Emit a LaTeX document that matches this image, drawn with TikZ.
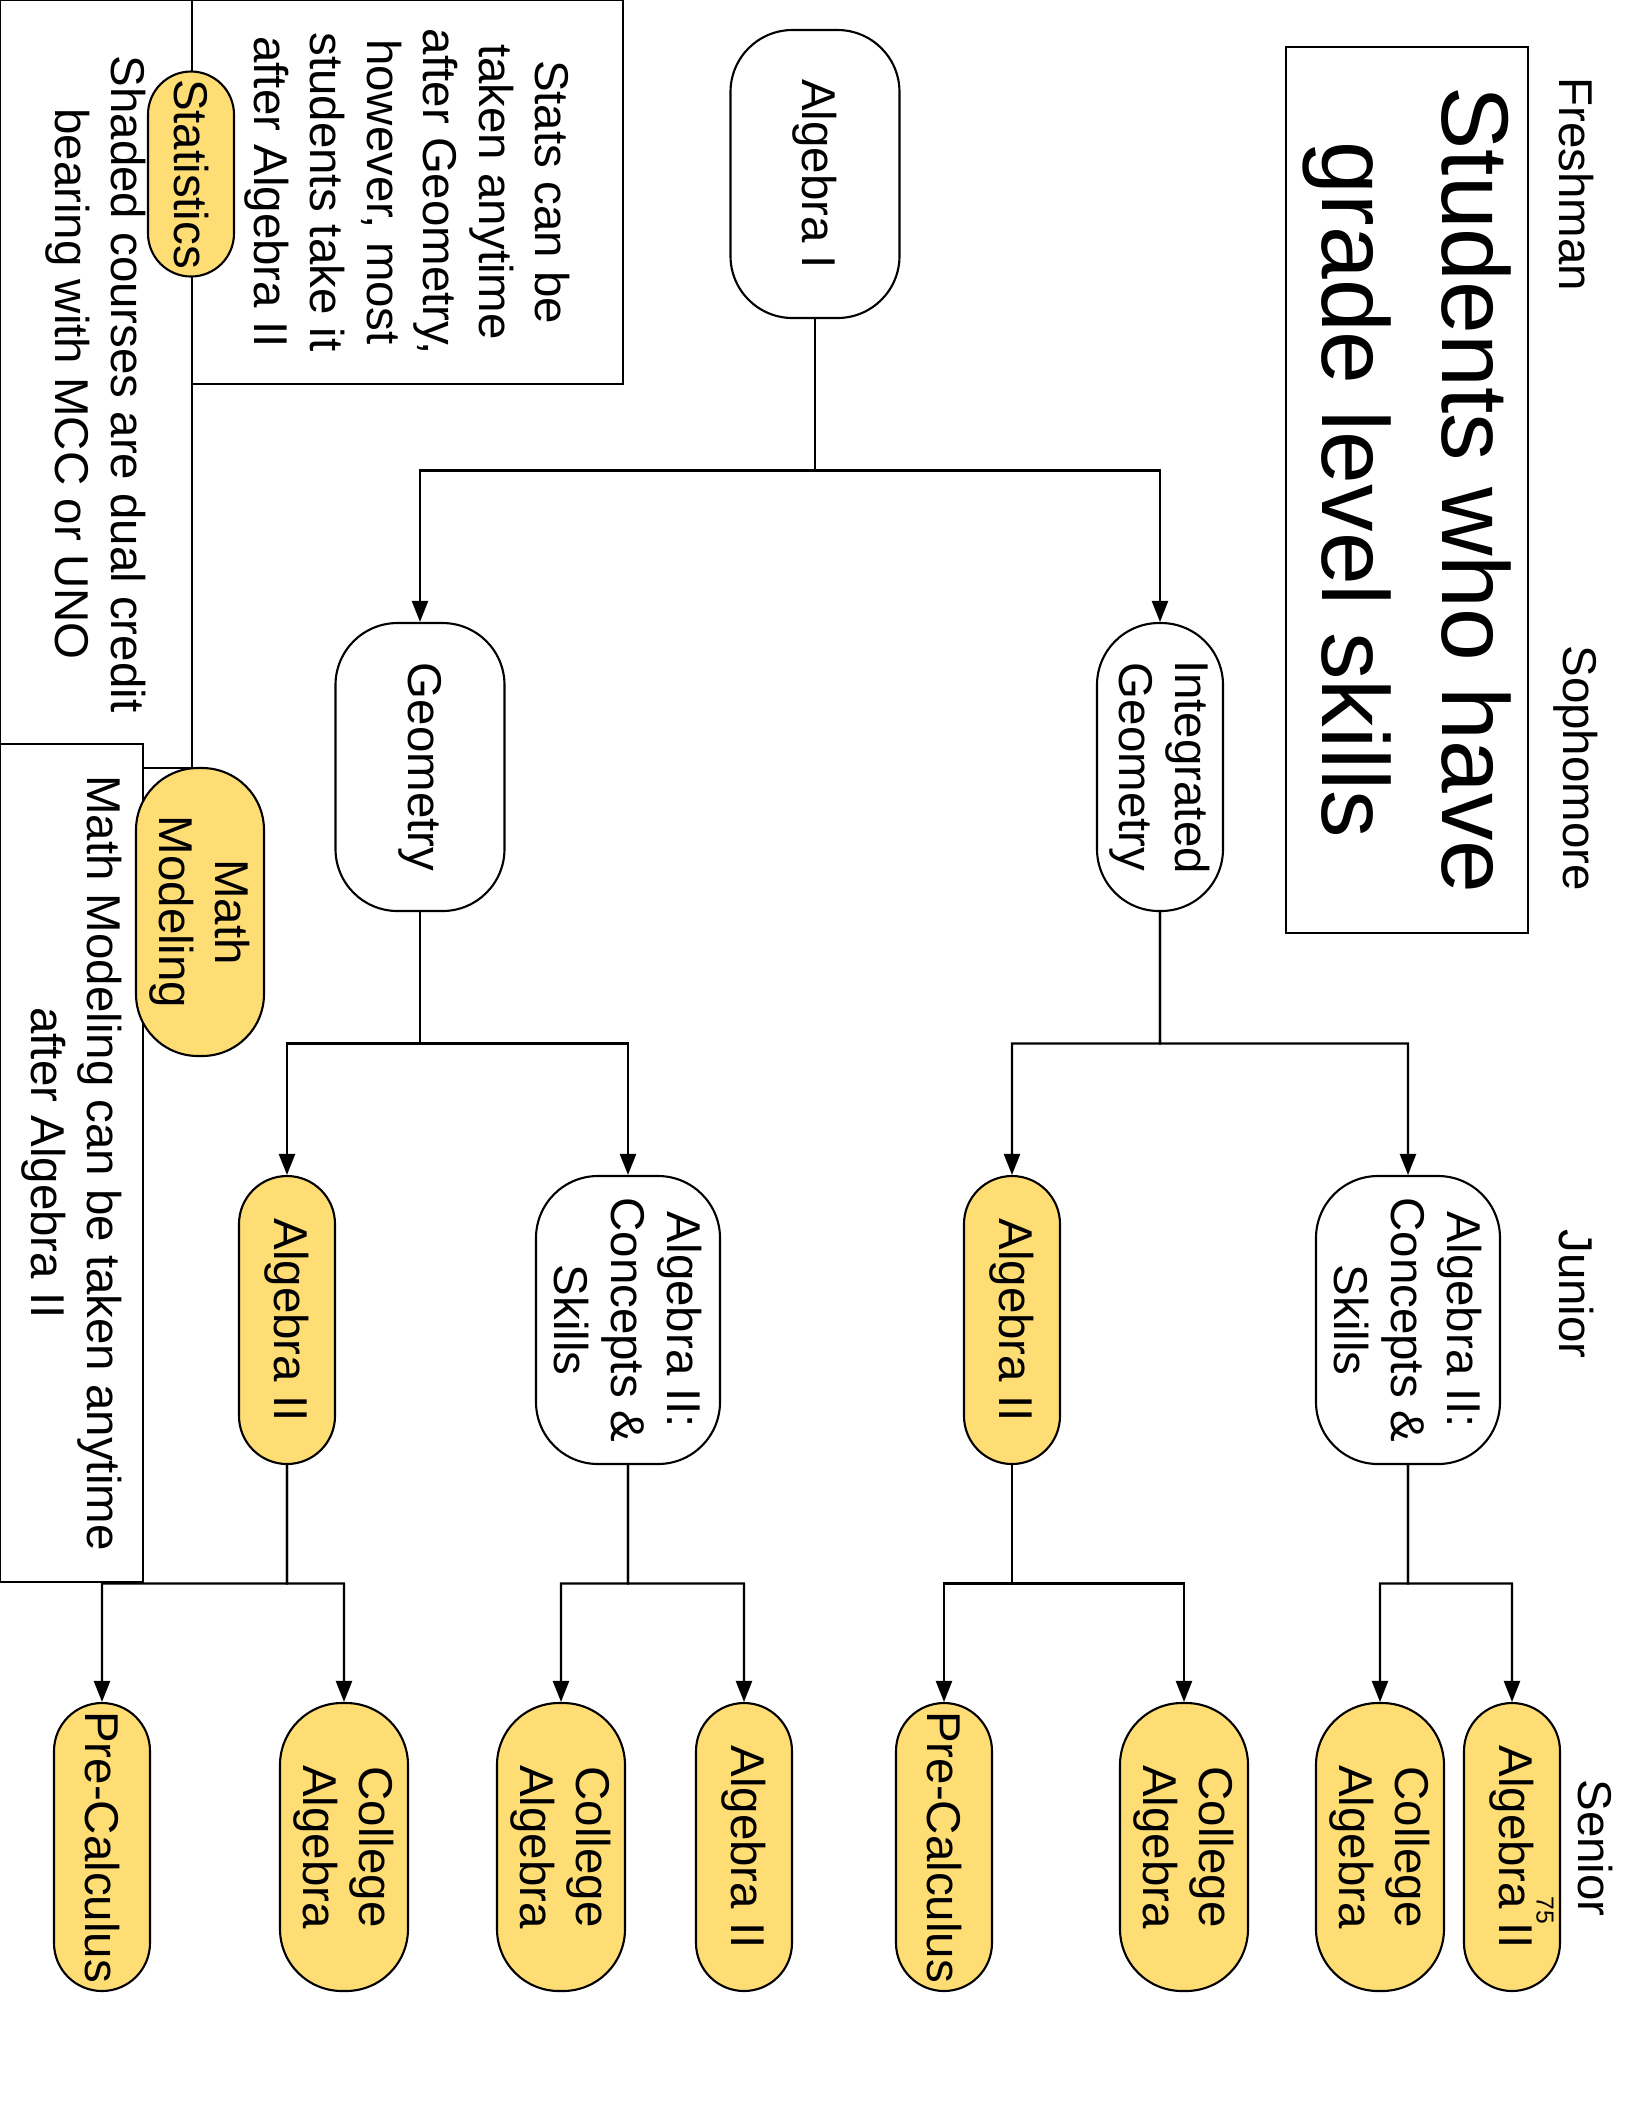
\documentclass[tikz,border=0pt]{standalone}
\usepackage{fontspec}
\setmainfont{Liberation Sans}
\usetikzlibrary{arrows.meta,calc}
\definecolor{creditfill}{RGB}{255,221,117}
\tikzset{course/.style = {draw, line width=0.6pt, align=center, inner sep=0,
                          font=\fontsize{13.5}{16}\selectfont,
                          minimum width=2.88cm, rounded corners=0.62cm}}
\tikzset{opencourse/.style = {course, fill=white}}
\tikzset{dualcourse/.style = {course, fill=creditfill}}
\tikzset{thinpill/.style = {minimum height=0.96cm, rounded corners=0.48cm}}
\tikzset{notebox/.style = {draw, line width=0.6pt, fill=white, align=center, inner sep=0,
                           font=\fontsize{13.5}{16}\selectfont}}
\tikzset{yearlabel/.style = {font=\fontsize{13.5}{16}\selectfont}}
\tikzset{flow/.style = {line width=0.6pt, -{Triangle[length=6pt, width=4.6pt]}}}
% elbow from a course down to the next year
\newcommand{\coursearrow}[2]{\draw[flow] (#1.east) -- ($(#1.east)!0.5!(#1.east -| #2.west)$) |- (#2.west);}

\begin{document}
\begin{tikzpicture}
  \useasboundingbox (0,0) rectangle (16.32,-21.12);
  \begin{scope}[rotate=-90, transform shape]
    % notes
    \node[notebox, minimum width=7.68cm, minimum height=1.92cm] (dualnote) at (3.84,0.96)
      {Shaded courses are dual credit\\bearing with MCC or UNO};
    \node[notebox, minimum width=3.84cm, minimum height=4.31cm] (statsnote) at (1.92,4.075)
      {Stats can be\\taken anytime\\after Geometry,\\however, most\\students take it\\after Algebra II};
    \node[notebox, minimum width=8.38cm, minimum height=1.43cm] (modelnote) at (11.63,0.715)
      {Math Modeling can be taken anytime\\after Algebra II};
    \node[notebox, minimum width=8.86cm, minimum height=2.42cm,
          font=\fontsize{27}{34}\selectfont] (title) at (4.90,14.07)
      {Students who have\\grade level skills};

    % years
    \node[yearlabel] (fresh) at (1.84,15.76) {Freshman};
    \node[yearlabel] (soph) at (7.68,15.76) {Sophomore};
    \node[yearlabel] (jun) at (12.94,15.76) {Junior};
    \node[yearlabel] (sen) at (18.48,15.95) {Senior};

    % courses
    \node[opencourse, minimum height=1.69cm] (alg1) at (1.74,8.15) {Algebra I};
    \node[opencourse, minimum height=1.26cm] (intgeo) at (7.67,11.60) {Integrated\\Geometry};
    \node[opencourse, minimum height=1.69cm] (geo) at (7.67,4.20) {Geometry};
    \node[opencourse, minimum height=1.84cm] (csA) at (13.20,14.08) {Algebra II:\\Concepts \&\\Skills};
    \node[dualcourse, thinpill] (alg2A) at (13.20,10.12) {Algebra II};
    \node[opencourse, minimum height=1.84cm] (csB) at (13.20,6.28) {Algebra II:\\Concepts \&\\Skills};
    \node[dualcourse, thinpill] (alg2B) at (13.20,2.87) {Algebra II};

    \node[dualcourse, thinpill] (alg2C) at (18.47,15.12) {Algebra II};
    \node[dualcourse, minimum height=1.28cm] (colA) at (18.47,13.80) {College\\Algebra};
    \node[dualcourse, minimum height=1.28cm] (colB) at (18.47,11.84) {College\\Algebra};
    \node[dualcourse, thinpill] (preA) at (18.47,9.44) {Pre-Calculus};
    \node[dualcourse, thinpill] (alg2D) at (18.47,7.44) {Algebra II};
    \node[dualcourse, minimum height=1.28cm] (colC) at (18.47,5.61) {College\\Algebra};
    \node[dualcourse, minimum height=1.28cm] (colD) at (18.47,3.44) {College\\Algebra};
    \node[dualcourse, thinpill] (preB) at (18.47,1.02) {Pre-Calculus};
    \node[font=\fontsize{7}{8}\selectfont] (pagenum) at (19.10,15.45) {75};

    \node[dualcourse, minimum width=2.05cm, minimum height=0.86cm, rounded corners=0.43cm] (stats) at (1.74,1.91) {Statistics};
    \node[dualcourse, minimum height=1.28cm] (model) at (9.12,2.00) {Math\\Modeling};

    % paths
    \coursearrow{alg1}{intgeo}
    \coursearrow{alg1}{geo}
    \coursearrow{intgeo}{csA}
    \coursearrow{intgeo}{alg2A}
    \coursearrow{geo}{csB}
    \coursearrow{geo}{alg2B}
    \coursearrow{csA}{alg2C}
    \coursearrow{csA}{colA}
    \coursearrow{alg2A}{colB}
    \coursearrow{alg2A}{preA}
    \coursearrow{csB}{alg2D}
    \coursearrow{csB}{colC}
    \coursearrow{alg2B}{colD}
    \coursearrow{alg2B}{preB}
  \end{scope}
\end{tikzpicture}
\end{document}
